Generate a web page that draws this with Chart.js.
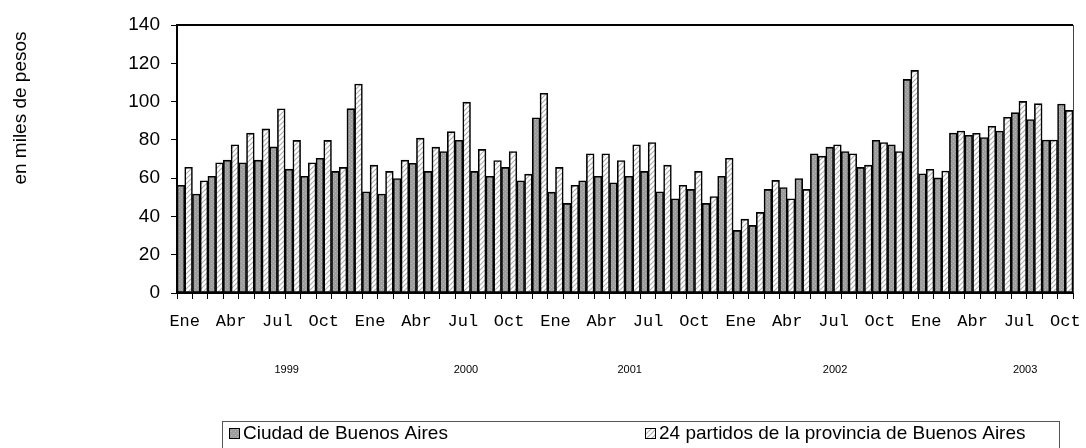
<!DOCTYPE html>
<html>
<head>
<meta charset="utf-8">
<script src="https://cdn.jsdelivr.net/npm/chart.js@4/dist/chart.umd.min.js"></script>
<style>
  html, body { margin: 0; padding: 0; background: #fff; }
  #c { display: block; }
</style>
</head>
<body>
<canvas id="c" width="1086" height="448"></canvas>
<script>
// ---------- DATA ----------
const monthNames = ['Ene','Feb','Mar','Abr','May','Jun','Jul','Ago','Sep','Oct','Nov','Dic'];
const years = ['1999','2000','2001','2002','2003'];
const monthCount = 58; // Ene 1999 .. Oct 2003

const ciudad = [
  56.3, 51.7, 61.0, 69.4, 68.0, 69.4, 76.3, 64.7, 61.0, 70.4, 63.5, 96.3,
  52.9, 51.7, 59.8, 67.8, 63.5, 73.9, 79.8, 63.5, 61.0, 65.6, 58.6, 91.5,
  52.7, 46.8, 58.6, 61.0, 57.6, 61.0, 63.5, 52.9, 49.2, 54.1, 46.8, 61.0,
  32.7, 35.3, 54.1, 55.1, 59.8, 72.7, 76.2, 73.9, 65.6, 79.8, 77.4, 111.6,
  62.3, 60.1, 83.6, 82.4, 81.2, 84.6, 94.2, 90.6, 79.9, 98.7
];
const partidos = [
  65.7, 58.6, 68.0, 77.4, 83.5, 85.7, 96.2, 79.7, 68.0, 79.7, 65.6, 109.2,
  66.8, 63.5, 69.4, 80.9, 76.2, 84.3, 99.7, 75.0, 69.2, 73.9, 62.1, 104.3,
  65.6, 56.3, 72.7, 72.7, 69.2, 77.4, 78.6, 66.8, 56.3, 63.5, 50.4, 70.4,
  38.6, 42.1, 58.8, 49.2, 54.1, 71.5, 77.4, 72.7, 66.8, 78.6, 73.9, 116.3,
  64.6, 63.7, 84.6, 83.4, 87.1, 91.8, 100.1, 98.9, 79.9, 95.4
];
const seriesNames = ['Ciudad de Buenos Aires', '24 partidos de la provincia de Buenos Aires'];
const yTicks = [0, 20, 40, 60, 80, 100, 120, 140];
const yTitle = 'en miles de pesos';

const categories = [];
for (let i = 0; i < monthCount; i++) {
  categories.push(monthNames[i % 12] + ' ' + years[Math.floor(i / 12)]);
}
const tickLabels = categories.map((c, i) => (i % 3 === 0 ? monthNames[i % 12] : ''));

// ---------- LAYOUT CONSTANTS ----------
const yearLabelIndex = [6.6, 18.2, 28.8, 42.1, 54.4]; // category-index positions of the year captions

// ---------- PATTERNS ----------
function grayPattern() {
  const p = document.createElement('canvas');
  p.width = 4; p.height = 4;
  const g = p.getContext('2d');
  g.fillStyle = '#9d9d9d';
  g.fillRect(0, 0, 4, 4);
  g.fillStyle = '#b9b9b9';
  g.fillRect(1, 1, 1, 1);
  g.fillRect(3, 3, 1, 1);
  return g.createPattern(p, 'repeat');
}
function hatchPattern() {
  const p = document.createElement('canvas');
  p.width = 5; p.height = 5;
  const g = p.getContext('2d');
  g.fillStyle = '#ffffff';
  g.fillRect(0, 0, 5, 5);
  g.strokeStyle = '#b0b0b0';
  g.lineWidth = 1.2;
  g.beginPath();
  g.moveTo(-1, 6); g.lineTo(6, -1);
  g.moveTo(-1, 1); g.lineTo(1, -1);
  g.moveTo(4, 6); g.lineTo(6, 4);
  g.stroke();
  return g.createPattern(p, 'repeat');
}
const grayFill = grayPattern();
const hatchFill = hatchPattern();

// ---------- PLUGINS ----------
const extras = {
  id: 'extras',
  afterDraw(chart) {
    const ctx = chart.ctx;
    const a = chart.chartArea;
    const xs = chart.scales.x;
    ctx.save();
    // frame top & right
    ctx.strokeStyle = '#000';
    ctx.lineWidth = 2;
    ctx.beginPath();
    ctx.moveTo(a.left, a.top);
    ctx.lineTo(a.right, a.top);
    ctx.stroke();
    ctx.strokeStyle = '#444';
    ctx.lineWidth = 1;
    ctx.beginPath();
    ctx.moveTo(a.right + 0.5, a.top);
    ctx.lineTo(a.right + 0.5, a.bottom);
    ctx.stroke();

    // y title
    ctx.fillStyle = '#000';
    ctx.font = '19px "Liberation Sans", Arial, sans-serif';
    ctx.textAlign = 'center';
    ctx.textBaseline = 'middle';
    ctx.save();
    ctx.translate(21, 108);
    ctx.rotate(-Math.PI / 2);
    ctx.fillText(yTitle, 0, 0);
    ctx.restore();

    // year captions
    ctx.font = '11px "Liberation Sans", Arial, sans-serif';
    years.forEach((y, i) => {
      ctx.fillText(y, xs.getPixelForValue(yearLabelIndex[i]), 370);
    });

    // legend
    ctx.strokeStyle = '#555';
    ctx.lineWidth = 1;
    ctx.strokeRect(222.5, 421.5, 837, 40);
    const items = [
      { x: 229, fill: grayFill, label: seriesNames[0] },
      { x: 645, fill: hatchFill, label: seriesNames[1] }
    ];
    ctx.font = '19px "Liberation Sans", Arial, sans-serif';
    ctx.textAlign = 'left';
    items.forEach(it => {
      ctx.fillStyle = it.fill;
      ctx.fillRect(it.x, 428, 10, 10);
      ctx.strokeStyle = '#000';
      ctx.strokeRect(it.x + 0.5, 428.5, 10, 10);
      ctx.fillStyle = '#000';
      ctx.fillText(it.label, it.x + 14, 434);
    });
    ctx.restore();
  }
};

// ---------- CHART ----------
new Chart(document.getElementById('c'), {
  type: 'bar',
  data: {
    labels: categories,
    datasets: [
      { label: seriesNames[0], data: ciudad, backgroundColor: grayFill, borderColor: '#000', borderWidth: 1.6, borderSkipped: false },
      { label: seriesNames[1], data: partidos, backgroundColor: hatchFill, borderColor: '#000', borderWidth: 1.6, borderSkipped: false }
    ]
  },
  options: {
    responsive: false,
    animation: false,
    devicePixelRatio: 1,
    layout: { padding: { top: 25, right: 13, left: 0, bottom: 0 } },
    datasets: { bar: { categoryPercentage: 1.0, barPercentage: 1.0 } },
    plugins: { legend: { display: false }, tooltip: { enabled: false } },
    scales: {
      x: {
        offset: true,
        grid: { offset: true, drawOnChartArea: false, drawTicks: true, tickLength: 6, color: '#000', lineWidth: 1 },
        border: { display: true, color: '#000', width: 2 },
        ticks: {
          autoSkip: false, maxRotation: 0, minRotation: 0, padding: 12, color: '#000',
          font: { family: '"Liberation Mono", "Courier New", monospace', size: 17 },
          callback: (v, i) => tickLabels[i]
        },
        afterFit: s => { s.height = 155; s.paddingLeft = 0; s.paddingRight = 0; }
      },
      y: {
        min: 0, max: 140,
        afterBuildTicks: s => { s.ticks = yTicks.map(v => ({ value: v })); },
        grid: { drawOnChartArea: false, drawTicks: true, tickLength: 6, color: '#000', lineWidth: 1 },
        border: { display: true, color: '#000', width: 2 },
        ticks: { padding: 11, color: '#000', font: { family: '"Liberation Sans", Arial, sans-serif', size: 19 } },
        afterFit: s => { s.width = 177; s.paddingTop = 0; s.paddingBottom = 0; }
      }
    }
  },
  plugins: [extras]
});
</script>
</body>
</html>
